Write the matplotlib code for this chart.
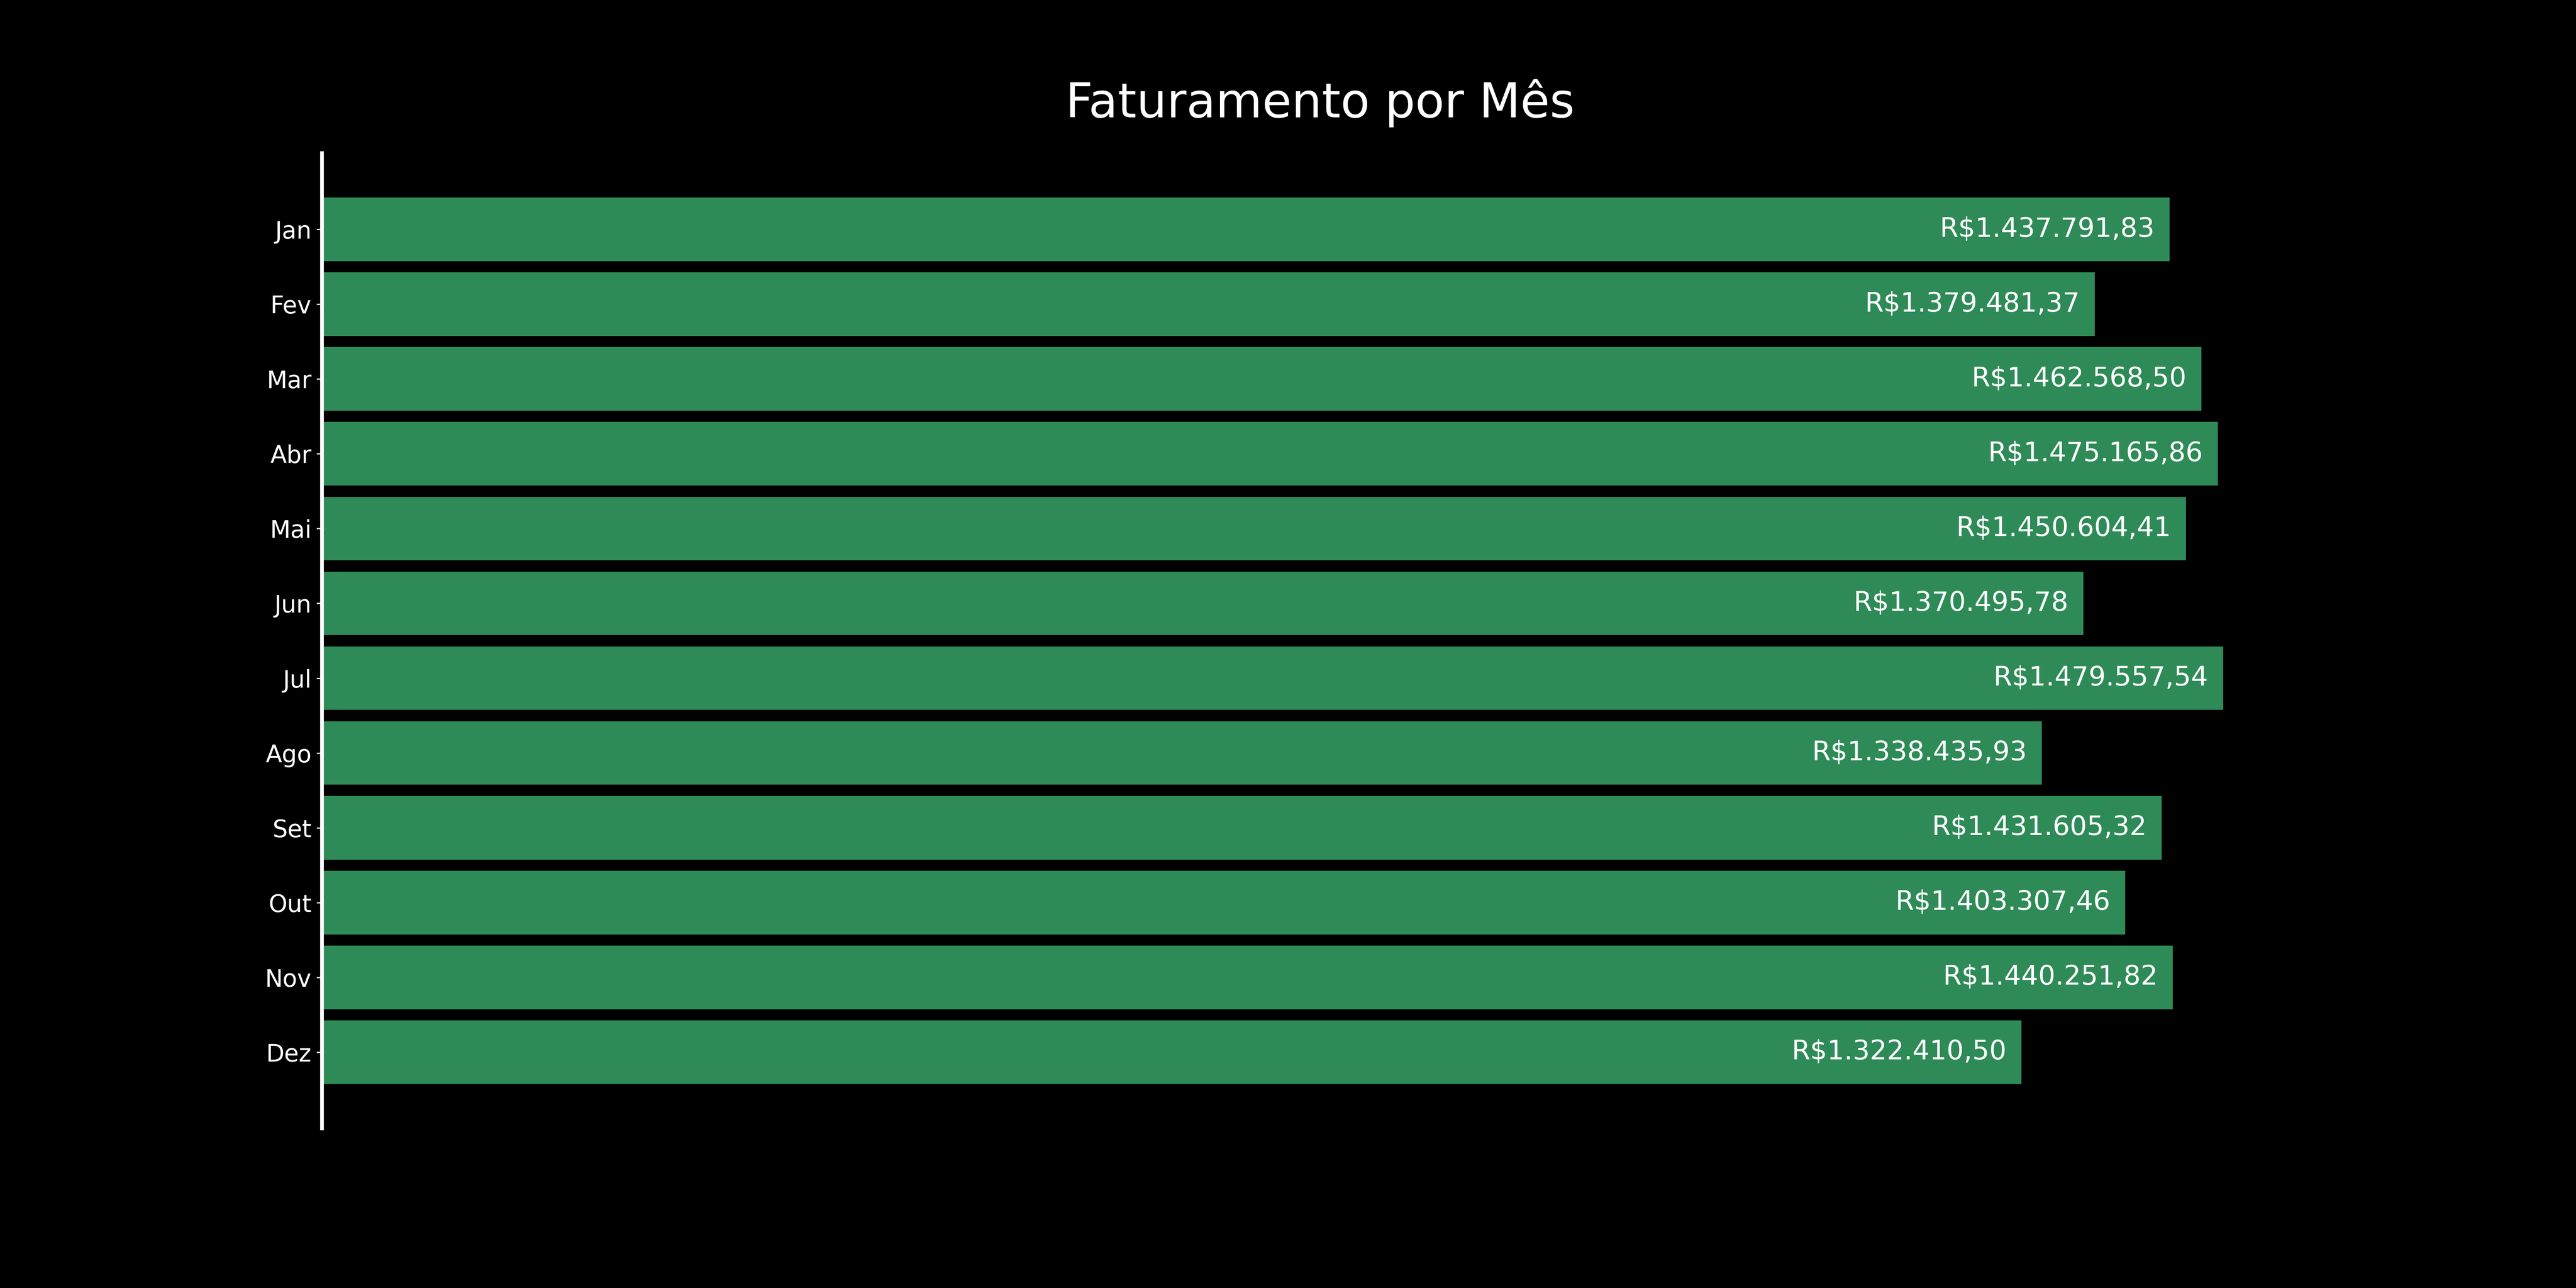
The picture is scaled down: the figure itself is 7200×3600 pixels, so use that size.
import matplotlib
matplotlib.use("Agg")
import matplotlib.pyplot as plt

meses = ['Jan', 'Fev', 'Mar', 'Abr', 'Mai', 'Jun',
         'Jul', 'Ago', 'Set', 'Out', 'Nov', 'Dez']
faturamento = [1437791.83, 1379481.37, 1462568.50, 1475165.86,
               1450604.41, 1370495.78, 1479557.54, 1338435.93,
               1431605.32, 1403307.46, 1440251.82, 1322410.50]


def formata_real(v):
    s = f"{v:,.2f}"
    s = s.replace(",", "X").replace(".", ",").replace("X", ".")
    return "R$" + s


plt.style.use('dark_background')
fig = plt.figure(figsize=(24, 12), dpi=300)
ax = fig.add_axes([0.125, 0.124, 0.775, 0.757])

barras = ax.barh(meses, faturamento, height=0.85, color='#2E8B57')
ax.invert_yaxis()

for barra, v in zip(barras, faturamento):
    ax.annotate(formata_real(v),
                xy=(barra.get_width(), barra.get_y() + barra.get_height() / 2),
                xytext=(-10, 0), textcoords='offset points',
                ha='right', va='center', color='white', fontsize=18)

ax.set_title('Faturamento por Mês', fontsize=32, color='white', pad=24)
ax.tick_params(axis='y', labelsize=16, colors='white')
ax.set_xticks([])
for lado in ['top', 'right', 'bottom']:
    ax.spines[lado].set_visible(False)
ax.spines['left'].set_color('white')
ax.spines['left'].set_linewidth(2.5)

fig.savefig('out.png', dpi=300, facecolor='black')
